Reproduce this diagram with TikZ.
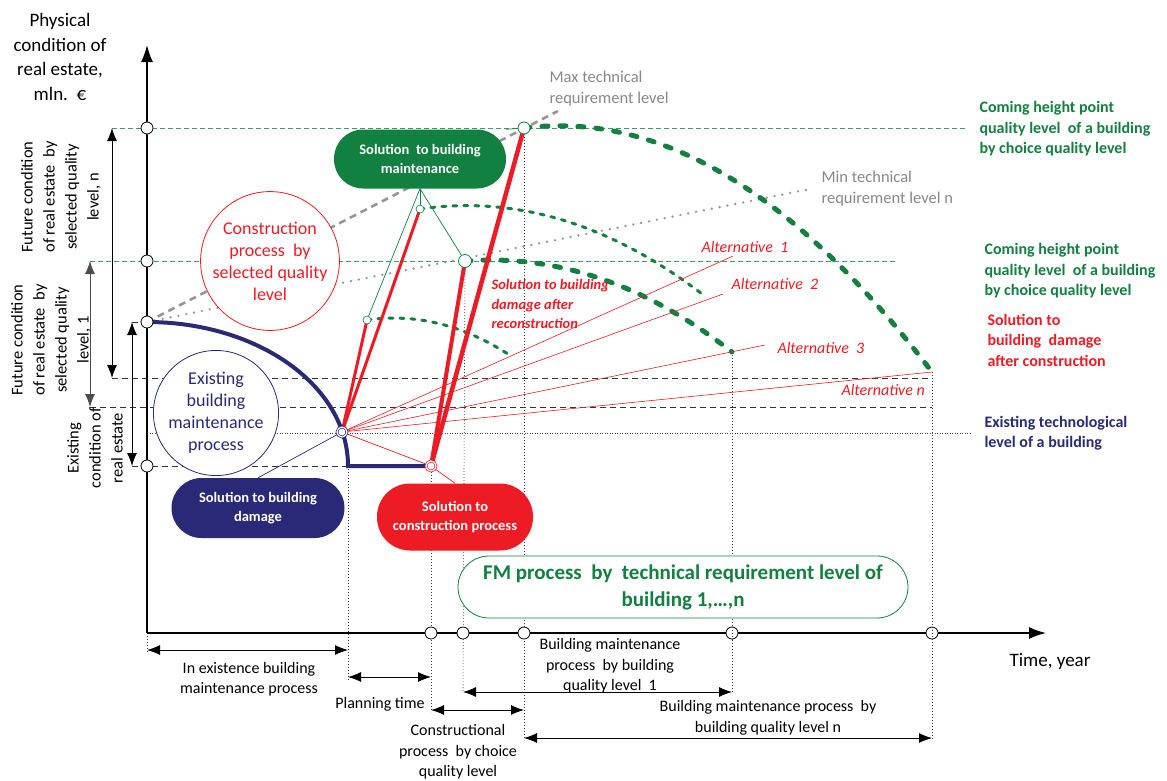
\documentclass[tikz,border=0pt]{standalone}
\usepackage{fontspec}
\setmainfont{Carlito}
\usetikzlibrary{positioning, arrows.meta}

\definecolor{fmgreen}{RGB}{17,128,64}
\definecolor{fmred}{RGB}{237,28,36}
\definecolor{fmnavy}{RGB}{42,41,120}
\definecolor{techgray}{RGB}{150,150,150}

\tikzset{
  x=1pt, y=-1pt, % one unit is one pixel of the sketch, y grows downwards
  >={Latex[length=13pt, width=10pt]},
  axis/.style={line width=1.6pt, -{Latex[length=17pt, width=12pt]}},
  pin/.style={circle, draw, fill=white, line width=0.8pt, minimum size=12pt, inner sep=0pt},
  greenpin/.style={pin, draw=fmgreen},
  smallpin/.style={pin, draw=fmgreen, minimum size=8pt, line width=0.6pt},
  ringpin/.style={circle, draw=#1, double=white, double distance=1.2pt, line width=0.7pt, fill=white, minimum size=10pt, inner sep=0pt},
  greendash/.style={fmgreen!80, dash pattern=on 5pt off 3pt, line width=0.7pt},
  blackdash/.style={black!80, dash pattern=on 6pt off 4pt, line width=0.8pt},
  griddot/.style={black!70, dash pattern=on 1pt off 1.5pt, line width=0.7pt},
  vdot/.style={black!75, dash pattern=on 1pt off 2pt, line width=0.6pt},
  dimline/.style={line width=0.9pt, <->},
  bigarc/.style={fmgreen, line width=5pt, dash pattern=on 6pt off 12pt, line cap=round},
  smallarc/.style={fmgreen, line width=3pt, dash pattern=on 4pt off 7pt, line cap=round},
  alt/.style={fmred, line width=0.6pt},
  solbox/.style={rounded corners=29pt, fill=#1, text=white, font=\fontsize{14.5}{19}\selectfont\bfseries, align=center, minimum width=172pt, minimum height=59pt},
  bubble/.style={circle, draw=#1, fill=white, text=#1, line width=0.8pt, align=center, minimum size=125pt, inner sep=0pt, font=\fontsize{18}{22}\selectfont},
  sidenote/.style={rotate=90, align=center, font=\fontsize{16.5}{22}\selectfont},
  timenote/.style={align=center, font=\fontsize{16}{20.5}\selectfont},
  rightnote/.style={align=left, anchor=west, font=\fontsize{16}{20.5}\selectfont\bfseries},
  technote/.style={align=left, anchor=west, text=techgray!90!black, font=\fontsize{16.5}{21}\selectfont},
  altnote/.style={anchor=west, text=fmred, font=\fontsize{16}{20}\selectfont\itshape},
}

\begin{document}
\begin{tikzpicture}
\useasboundingbox (0,0) rectangle (1167,780);

% points of the sketch
\coordinate (o) at (147,633);
\coordinate (yn) at (147,128);
\coordinate (y1) at (147,261);
\coordinate (y0) at (147,322);
\coordinate (ye) at (147,466);
\coordinate (dmg) at (342,432);
\coordinate (con) at (431,466);
\coordinate (corner) at (348,466);
\coordinate (low) at (367,320);
\coordinate (mid) at (420,209);
\coordinate (top1) at (465,261);
\coordinate (topn) at (524,128);
\coordinate (endlow) at (511,356);
\coordinate (endmid) at (706,297);
\coordinate (end1) at (732,352);
\coordinate (endn) at (932,372);
\coordinate (maxend) at (558,111);
\coordinate (minend) at (810,189);

% level lines
\draw[greendash] (112,128) -- (967,128);
\draw[greendash] (90,261) -- (897,261);
\draw[blackdash] (132,322) -- (y0);
\draw[blackdash] (112,378) -- (932,378);
\draw[blackdash] (90,407) -- (932,407);
\draw[griddot] (147,433) -- (972,433);
\draw[blackdash] (132,466) -- (corner);

% time marks
\draw[vdot] (o) -- (147,652);
\draw[vdot] (corner) -- (348,680);
\draw[vdot] (con) -- (431,712);
\draw[vdot] (top1) -- (463,692);
\draw[vdot] (topn) -- (524,740);
\draw[vdot] (end1) -- (732,692);
\draw[vdot] (endn) -- (932,740);

% technical requirement levels
\draw[techgray, line width=2.6pt, dash pattern=on 7pt off 5pt] (y0) -- (maxend);
\draw[techgray, line width=2.6pt, dash pattern=on 0pt off 8pt, line cap=round] (y0) -- (minend);

% axes
\draw[axis] (o) -- (147,45);
\draw[axis] (o) -- (1046,633);

% bubbles
\node[bubble=fmred] (constr) at (270,261) {Construction\\process~ by\\selected quality\\level};
\node[bubble=fmnavy] (exist) at (216,413) {Existing\\building\\maintenance\\process};

% quality curves
\draw[smallarc] (low) .. controls (416,313) and (464,325) .. (endlow);
\draw[smallarc] (mid) .. controls (516,195) and (612,224) .. (endmid);
\draw[bigarc] (top1) .. controls (556,254) and (645,284) .. (end1);
\draw[bigarc] (topn) .. controls (659,111) and (795,192) .. (endn);

% alternatives
\draw[alt] (dmg) -- (733,256);
\draw[alt] (dmg) -- (723,294);
\draw[alt] (dmg) -- (765,345);
\draw[alt] (dmg) -- (endn);

% construction lines
\draw[fmred, line width=3pt] (dmg) -- (low);
\draw[fmred, line width=3pt] (dmg) -- (mid);
\draw[fmred, line width=4pt] (con) -- (top1);
\draw[fmred, line width=4.5pt] (con) -- (topn);

% existing building
\draw[fmnavy, line width=4pt] (y0) .. controls (258,322) and (348,386) .. (corner) -- (con);

% solution boxes
\node[solbox=fmgreen] (maintbox) at (420,159) {Solution~ to building\\maintenance};
\node[solbox=fmnavy, minimum width=173pt, minimum height=60pt, rounded corners=30pt] (dmgbox) at (258,508) {Solution to building\\damage};
\node[solbox=fmred, minimum width=156pt, minimum height=67pt, rounded corners=33pt] (conbox) at (455,517) {Solution to\\construction process};
\node[draw=fmgreen, fill=white, line width=0.8pt, rounded corners=31pt, minimum width=450pt, minimum height=62pt, align=center,
      text=fmgreen, font=\fontsize{21}{27}\selectfont\bfseries] (fmbox) at (683,587) {FM process~ by~ technical requirement level of\\building 1,\dots,n};

% callouts
\draw[fmnavy, line width=0.7pt] (dmgbox.north) -- (dmg);
\draw[fmred, line width=0.7pt] (dmg) -- (con) -- (conbox.north);
\draw[fmgreen, line width=0.7pt] (maintbox.south) -- (low);
\draw[fmgreen, line width=0.7pt] (maintbox.south) -- (mid);
\draw[fmgreen, line width=0.7pt] (maintbox.south) -- (top1);
\draw[fmgreen, line width=0.7pt] (maintbox.north east) -- (topn);

% left dimensions
\draw[dimline] (112,128) -- (112,378);
\draw[dimline, black!70] (90,261) -- (90,407);
\draw[dimline] (132,322) -- (132,466);

% bottom dimensions
\draw[dimline] (147,650) -- (348,650);
\draw[dimline] (348,677) -- (431,677);
\draw[dimline] (463,692) -- (732,692);
\draw[dimline] (431,710) -- (524,710);
\draw[dimline] (524,738) -- (932,738);

% pins
\foreach \p in {yn, y1, y0, ye} \node[pin] at (\p) {};
\foreach \t in {431, 463, 524, 732, 932} \node[pin] (t\t) at (\t,633) {};
\node[greenpin] at (topn) {};
\node[greenpin, minimum size=13pt] at (top1) {};
\node[smallpin] at (mid) {};
\node[smallpin] at (low) {};
\node[ringpin=fmnavy] at (dmg) {};
\node[ringpin=fmred] at (con) {};

% these marks run through their pins
\draw[vdot] (t732.north) -- (t732.south);
\draw[vdot] (t932.north) -- (t932.south);

% texts
\node[align=center, font=\fontsize{19}{24.5}\selectfont] (ytitle) at (60,57) {Physical\\condition of\\real estate,\\mln.~~€};
\node[font=\fontsize{19}{23}\selectfont] (xtitle) at (1050,661) {Time, year};
\node[sidenote] (futn) at (61,197) {Future condition\\of real estate~ by\\selected quality\\level, n};
\node[sidenote] (fut1) at (51,340) {Future condition\\of real estate~ by\\selected quality\\level, 1};
\node[sidenote] (exst) at (95,448) {Existing\\condition of\\real estate};

\node[technote] (maxnote) at (546,89) {Max technical\\requirement level};
\node[technote] (minnote) at (818,189) {Min technical\\requirement level n};

\node[rightnote, text=fmgreen] (comingn) at (976,129) {Coming height point\\quality level~ of a building\\by choice quality level};
\node[rightnote, text=fmgreen] (coming1) at (981,271) {Coming height point\\quality level~ of a building\\by choice quality level};
\node[rightnote, text=fmred] (aftercon) at (984,340) {Solution to\\building~ damage\\after construction};
\node[rightnote, text=fmnavy] (techlevel) at (981,433) {Existing technological\\level of a building};

\node[altnote] (alt1) at (698,247) {Alternative~ 1};
\node[altnote] (alt2) at (728,284) {Alternative~ 2};
\node[altnote] (alt3) at (774,348) {Alternative~ 3};
\node[altnote] (altn) at (838,390) {Alternative n};
\node[anchor=west, align=left, text=fmred, font=\fontsize{14.5}{19.5}\selectfont\bfseries\itshape] (afterrec) at (488,304) {Solution to building\\damage after\\reconstruction};

\node[timenote] (existtime) at (249,679) {In existence building\\maintenance process};
\node[timenote] (plantime) at (380,704) {Planning time};
\node[timenote] (contime) at (458,752) {Constructional\\process~ by choice\\quality level};
\node[timenote] (quality1) at (610,666) {Building maintenance\\process~ by building\\quality level~ 1};
\node[timenote] (qualityn) at (768,718) {Building maintenance process~ by\\building quality level n};
\end{tikzpicture}
\end{document}
